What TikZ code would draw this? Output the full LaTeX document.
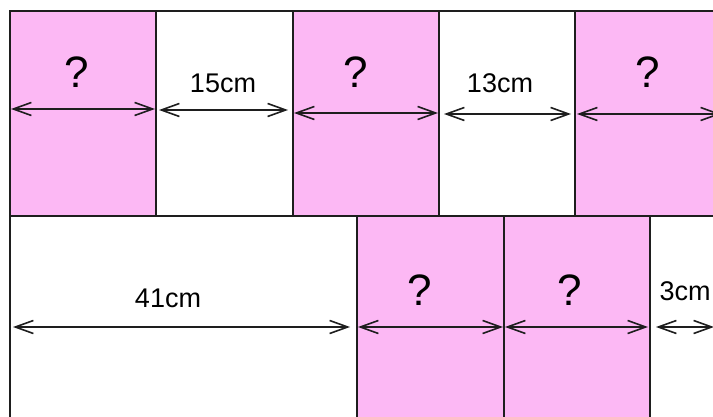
\documentclass[tikz,border=0pt]{standalone}
\usepackage{fontspec}
\setmainfont{Liberation Sans}
\usetikzlibrary{arrows.meta}
\definecolor{pinkfill}{RGB}{252,184,244}
\definecolor{edge}{RGB}{30,30,30}
\tikzset{
  pinkcell/.style={fill=pinkfill},
  celledge/.style={draw=edge, line width=2pt},
  dimarrow/.style={draw=edge, line width=1.6pt,
    {Straight Barb[length=18pt,width=13pt,line width=1.6pt]}-{Straight Barb[length=18pt,width=13pt,line width=1.6pt]}},
  cmlabel/.style={inner sep=0pt, font=\fontsize{27}{32}\selectfont},
  qlabel/.style={inner sep=0pt, font=\fontsize{44}{52}\selectfont}
}
\begin{document}
\begin{tikzpicture}[x=1pt,y=-1pt]
\useasboundingbox (0,0) rectangle (713,417);
\fill[white] (0,0) rectangle (713,417);
\begin{scope}
\clip (0,0) rectangle (713,417);
% fills
\fill[pinkcell]  (10,11) rectangle (156,216);
\fill[pinkcell]  (293,11) rectangle (439,216);
\fill[pinkcell]  (575,11) rectangle (740,216);
\fill[pinkcell]  (357,216) rectangle (650,440);
% outlines
\draw[celledge] (10,440) -- (10,11) -- (740,11);
\draw[celledge] (10,216) -- (740,216);
\draw[celledge] (156,11) -- (156,216);
\draw[celledge] (293,11) -- (293,216);
\draw[celledge] (439,11) -- (439,216);
\draw[celledge] (575,11) -- (575,216);
\draw[celledge] (357,216) -- (357,440);
\draw[celledge] (504,216) -- (504,440);
\draw[celledge] (650,216) -- (650,440);

% arrow end points
\coordinate (a1l) at (11,109);   \coordinate (a1r) at (155,109);
\coordinate (a2l) at (159,110);  \coordinate (a2r) at (288,110);
\coordinate (a3l) at (294,113);  \coordinate (a3r) at (438,113);
\coordinate (a4l) at (444,114);  \coordinate (a4r) at (571,114);
\coordinate (a5l) at (577,114);  \coordinate (a5r) at (721,114);
\coordinate (b1l) at (13,327);   \coordinate (b1r) at (350,327);
\coordinate (b2l) at (358,327);  \coordinate (b2r) at (503,327);
\coordinate (b3l) at (505,327);  \coordinate (b3r) at (648,327);
\coordinate (b4l) at (656,327);  \coordinate (b4r) at (714,327);

\draw[dimarrow] (a1l) -- (a1r);
\draw[dimarrow] (a2l) -- (a2r);
\draw[dimarrow] (a3l) -- (a3r);
\draw[dimarrow] (a4l) -- (a4r);
\draw[dimarrow] (a5l) -- (a5r);
\draw[dimarrow] (b1l) -- (b1r);
\draw[dimarrow] (b2l) -- (b2r);
\draw[dimarrow] (b3l) -- (b3r);
\draw[dimarrow] (b4l) -- (b4r);

% labels
\node[qlabel]  (q1)  at (77,72)   {?};
\node[cmlabel] (l15) at (223,83)  {15cm};
\node[qlabel]  (q2)  at (356,72)  {?};
\node[cmlabel] (l13) at (500,83)  {13cm};
\node[qlabel]  (q3)  at (648,72)  {?};
\node[cmlabel] (l41) at (168,298) {41cm};
\node[qlabel]  (q4)  at (420,290) {?};
\node[qlabel]  (q5)  at (570,290) {?};
\node[cmlabel] (l3)  at (685,291) {3cm};
\end{scope}
\end{tikzpicture}
\end{document}
